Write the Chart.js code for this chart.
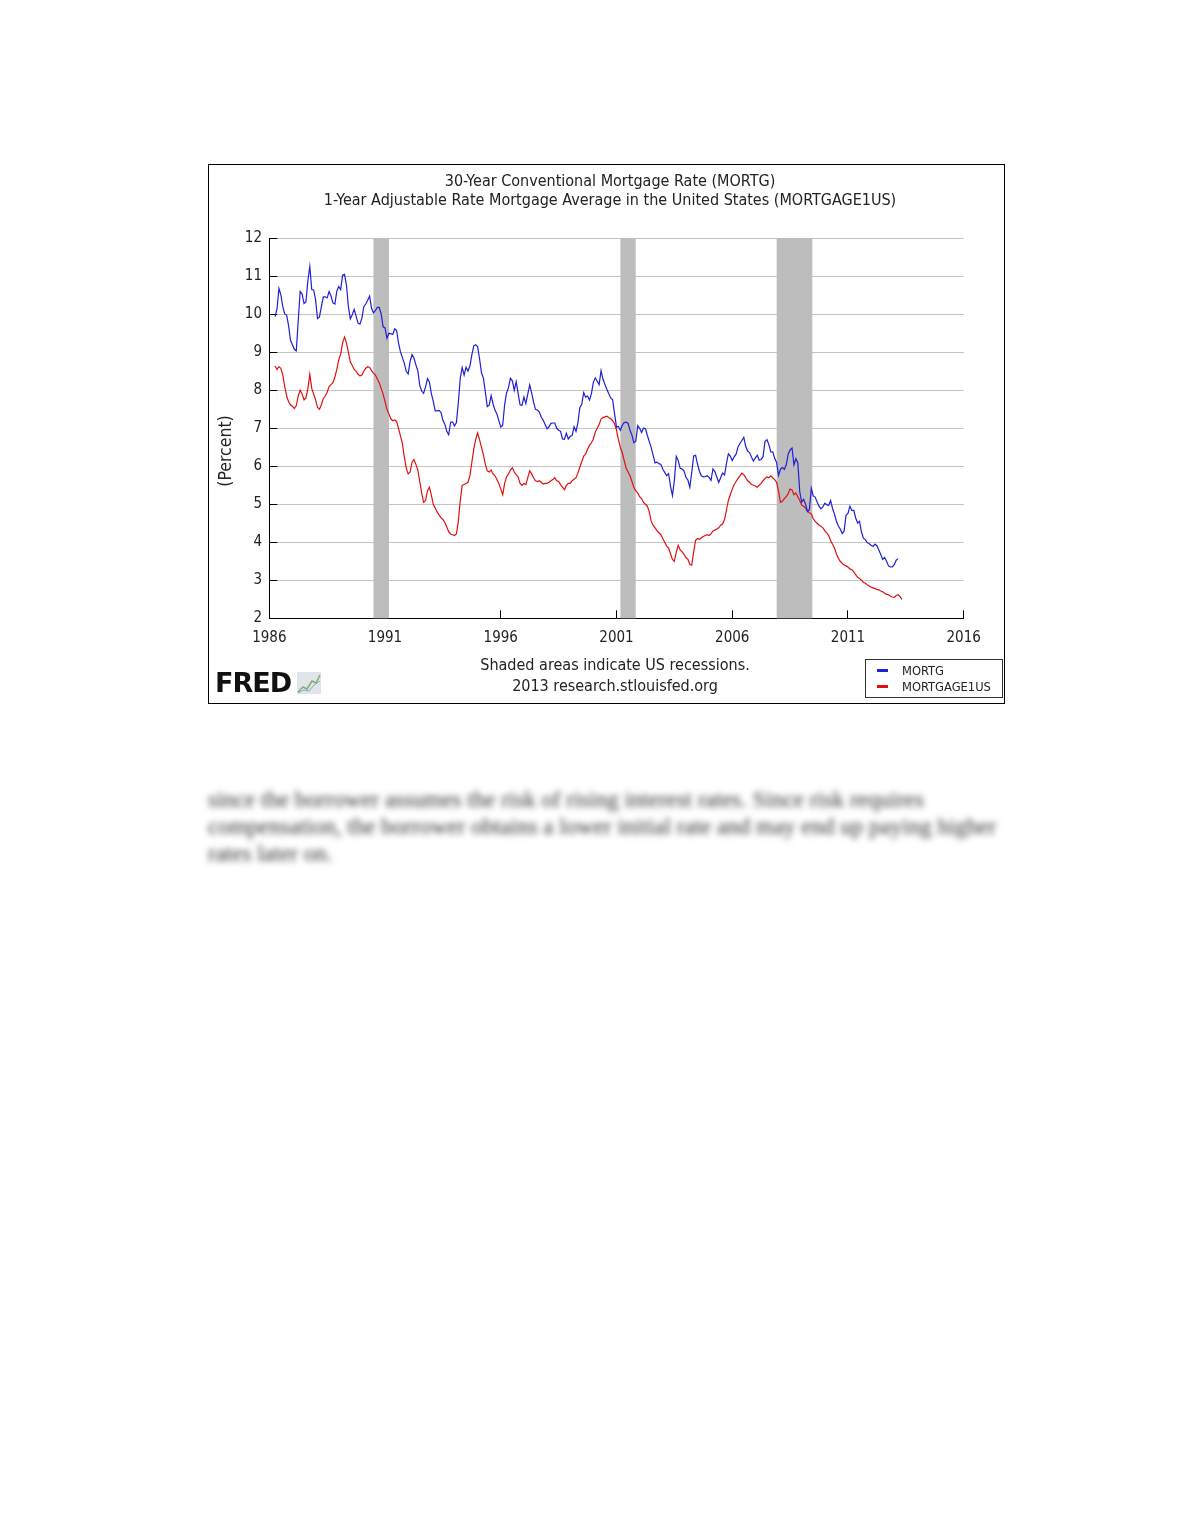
<!DOCTYPE html>
<html lang="en">
<head>
<meta charset="UTF-8">
<title>30-Year Conventional Mortgage Rate vs 1-Year ARM</title>
<style>
    html, body {
        margin: 0;
        padding: 0;
        background: #fff;
    }
    body {
        width: 1180px;
        height: 1527px;
        position: relative;
        font-family: "DejaVu Sans Condensed", "DejaVu Sans", sans-serif;
        color: #222;
    }
    #frame {
        position: absolute;
        left: 208px;
        top: 164px;
        width: 797px;
        height: 540px;
        border: 1px solid #000;
        box-sizing: border-box;
    }
    #chartBox {
        position: absolute;
        left: 0;
        top: 0;
        width: 797px;
        height: 540px;
    }
    .title {
        position: absolute;
        left: 310px;
        width: 600px;
        text-align: center;
        font-size: 16px;
        line-height: 19px;
        white-space: nowrap;
    }
    #yTitle {
        position: absolute;
        left: 175px;
        top: 440px;
        width: 100px;
        height: 22px;
        line-height: 22px;
        text-align: center;
        font-size: 17.5px;
        transform: rotate(-90deg);
        transform-origin: 50% 50%;
    }
    .note {
        position: absolute;
        left: 400px;
        width: 430px;
        text-align: center;
        font-size: 16px;
        line-height: 19px;
        color: #222;
    }
    #legendBox {
        position: absolute;
        left: 865px;
        top: 659px;
        width: 138px;
        height: 39px;
        border: 1px solid #333;
        box-sizing: border-box;
        background: #fff;
        font-size: 12.8px;
    }
    .item {
        position: absolute;
        left: 36px;
        line-height: 14px;
    }
    .swatch {
        position: absolute;
        left: -25px;
        top: 5px;
        width: 11px;
        height: 3px;
    }
    #fred {
        position: absolute;
        left: 215px;
        top: 667px;
        font-family: "DejaVu Sans", sans-serif;
        font-size: 27px;
        font-weight: bold;
        letter-spacing: -1px;
        color: #111;
    }
    #fredIcon {
        position: absolute;
        left: 297px;
        top: 672px;
    }
    #para {
        position: absolute;
        left: 208px;
        top: 786px;
        font-family: "Liberation Serif", serif;
        font-size: 23px;
        line-height: 27px;
        color: #333;
        filter: blur(3px);
        white-space: nowrap;
    }
</style>
</head>
<body>

<div id="frame">
    <div id="chartBox"><canvas id="rateChart"></canvas></div>
</div>

<div class="title" id="title1" style="top:171px"></div>
<div class="title" id="title2" style="top:190px"></div>
<div id="yTitle">(Percent)</div>

<div class="note" style="top:655px">Shaded areas indicate US recessions.</div>
<div class="note" style="top:676px">2013 research.stlouisfed.org</div>

<div id="fred">FRED</div>
<svg id="fredIcon" width="24" height="22" viewBox="0 0 24 22">
    <rect x="0" y="0" width="24" height="22" fill="#dfe5ea"/>
    <polyline points="1,20 6,15 10,17 15,9 19,11 23,3" fill="none" stroke="#7fae6a" stroke-width="1.5"/>
    <polyline points="1,21 7,18 12,19 17,13 23,9" fill="none" stroke="#8aa7c4" stroke-width="1"/>
</svg>

<div id="legendBox">
    <div class="item" style="top:4px"><span class="swatch" style="background:#1f1fd6"></span><span id="leg1"></span></div>
    <div class="item" style="top:20px"><span class="swatch" style="background:#e01010"></span><span id="leg2"></span></div>
</div>

<div id="para">since the borrower assumes the risk of rising interest rates. Since risk requires<br>compensation, the borrower obtains a lower initial rate and may end up paying higher<br>rates later on.</div>

<script src="https://cdn.jsdelivr.net/npm/chart.js"></script>
<script>
    // both series are monthly, first value = April 1986
    const startYear = 1986;
    const startMonth = 4;

    const titleLines = [
        '30-Year Conventional Mortgage Rate (MORTG)',
        '1-Year Adjustable Rate Mortgage Average in the United States (MORTGAGE1US)'
    ];
    const seriesNames = ['MORTG', 'MORTGAGE1US'];

    // 30-year conventional mortgage rate, percent
    const mortg = [
        9.94, 10.14, 10.68, 10.51, 10.20, 10.01, 9.98, 9.70, 9.31,
        9.20, 9.08, 9.04, 9.83, 10.60, 10.54, 10.28, 10.33, 10.89, 11.26, 10.65, 10.64,
        10.38, 9.89, 9.93, 10.20, 10.46, 10.46, 10.43, 10.60, 10.48, 10.30, 10.27, 10.61,
        10.73, 10.65, 11.03, 11.05, 10.77, 10.20, 9.88, 9.99, 10.13, 9.95, 9.77, 9.74,
        9.90, 10.20, 10.27, 10.37, 10.48, 10.16, 10.04, 10.10, 10.18, 10.18, 10.01, 9.67,
        9.64, 9.37, 9.50, 9.49, 9.47, 9.62, 9.58, 9.24, 9.01, 8.86, 8.71, 8.50,
        8.43, 8.76, 8.94, 8.85, 8.67, 8.51, 8.13, 7.98, 7.92, 8.09, 8.31, 8.22,
        7.92, 7.71, 7.46, 7.46, 7.47, 7.42, 7.21, 7.11, 6.92, 6.83, 7.16, 7.17,
        7.06, 7.15, 7.68, 8.32, 8.60, 8.40, 8.61, 8.51, 8.64, 8.93, 9.17, 9.20,
        9.15, 8.83, 8.46, 8.32, 7.96, 7.57, 7.61, 7.86, 7.64, 7.48, 7.38, 7.20,
        7.03, 7.08, 7.62, 7.93, 8.07, 8.32, 8.25, 8.00, 8.23, 7.92, 7.62, 7.60,
        7.82, 7.65, 7.90, 8.14, 7.94, 7.69, 7.50, 7.48, 7.43, 7.29, 7.21, 7.10,
        6.99, 7.04, 7.13, 7.14, 7.14, 7.00, 6.95, 6.92, 6.72, 6.71, 6.87, 6.72,
        6.79, 6.81, 7.04, 6.92, 7.15, 7.55, 7.63, 7.94, 7.82, 7.85, 7.74, 7.91,
        8.21, 8.33, 8.24, 8.15, 8.52, 8.29, 8.15, 8.03, 7.91, 7.80, 7.75, 7.38,
        7.03, 7.05, 6.95, 7.08, 7.15, 7.16, 7.13, 6.95, 6.82, 6.62, 6.66, 7.07,
        7.00, 6.89, 7.01, 6.99, 6.81, 6.65, 6.49, 6.29, 6.09, 6.11, 6.07, 6.05,
        5.92, 5.84, 5.75, 5.81, 5.48, 5.23, 5.63, 6.26, 6.15, 5.95, 5.93, 5.88,
        5.71, 5.64, 5.45, 5.83, 6.27, 6.29, 6.06, 5.87, 5.75, 5.72, 5.73, 5.75,
        5.71, 5.63, 5.93, 5.86, 5.72, 5.58, 5.70, 5.82, 5.77, 6.07, 6.33, 6.27,
        6.15, 6.25, 6.32, 6.51, 6.60, 6.68, 6.76, 6.52, 6.40, 6.36, 6.24, 6.14,
        6.22, 6.29, 6.16, 6.18, 6.26, 6.66, 6.70, 6.57, 6.38, 6.38, 6.21, 6.10,
        5.76, 5.92, 5.97, 5.92, 6.04, 6.32, 6.43, 6.48, 6.04, 6.20, 6.09, 5.33,
        5.06, 5.13, 5.00, 4.81, 4.86, 5.42, 5.22, 5.19, 5.06, 4.95, 4.88, 4.93,
        5.03, 4.99, 4.97, 5.10, 4.89, 4.74, 4.56, 4.43, 4.35, 4.23, 4.30, 4.71,
        4.76, 4.95, 4.84, 4.84, 4.64, 4.51, 4.55, 4.27, 4.11, 4.07, 3.99, 3.96,
        3.92, 3.89, 3.95, 3.91, 3.80, 3.68, 3.55, 3.60, 3.50, 3.38, 3.35, 3.35,
        3.41, 3.53, 3.57
    ];

    // 1-year ARM average, percent
    const mortgage1us = [
        8.64, 8.55, 8.62, 8.58, 8.40, 8.10, 7.85, 7.70, 7.62,
        7.58, 7.52, 7.60, 7.85, 8.00, 7.90, 7.75, 7.80, 8.05, 8.42, 8.05, 7.90,
        7.75, 7.55, 7.50, 7.62, 7.78, 7.85, 7.95, 8.10, 8.15, 8.20, 8.35, 8.55,
        8.80, 8.95, 9.25, 9.40, 9.25, 9.00, 8.75, 8.65, 8.55, 8.50, 8.42, 8.38,
        8.40, 8.50, 8.58, 8.62, 8.60, 8.52, 8.45, 8.40, 8.30, 8.20, 8.05, 7.90,
        7.70, 7.50, 7.38, 7.25, 7.20, 7.22, 7.18, 7.00, 6.80, 6.60, 6.25, 5.95,
        5.80, 5.85, 6.10, 6.18, 6.05, 5.90, 5.60, 5.30, 5.05, 5.10, 5.35, 5.45,
        5.25, 5.00, 4.90, 4.80, 4.72, 4.65, 4.60, 4.52, 4.40, 4.28, 4.22, 4.20,
        4.18, 4.22, 4.55, 5.10, 5.50, 5.52, 5.55, 5.58, 5.75, 6.10, 6.45, 6.70,
        6.88, 6.70, 6.50, 6.30, 6.05, 5.88, 5.85, 5.90, 5.80, 5.75, 5.65, 5.55,
        5.40, 5.25, 5.55, 5.72, 5.80, 5.90, 5.96, 5.85, 5.78, 5.72, 5.55, 5.50,
        5.55, 5.52, 5.70, 5.88, 5.80, 5.70, 5.62, 5.60, 5.62, 5.58, 5.53, 5.55,
        5.55, 5.58, 5.62, 5.65, 5.70, 5.62, 5.60, 5.52, 5.45, 5.38, 5.50, 5.55,
        5.55, 5.62, 5.66, 5.70, 5.82, 5.98, 6.12, 6.27, 6.32, 6.45, 6.55, 6.62,
        6.72, 6.90, 7.00, 7.10, 7.25, 7.28, 7.30, 7.32, 7.28, 7.25, 7.20, 7.12,
        6.95, 6.70, 6.50, 6.35, 6.15, 5.95, 5.85, 5.75, 5.60, 5.45, 5.35, 5.30,
        5.20, 5.15, 5.05, 5.00, 4.95, 4.80, 4.55, 4.45, 4.38, 4.30, 4.25, 4.20,
        4.10, 4.00, 3.90, 3.85, 3.70, 3.55, 3.50, 3.75, 3.92, 3.80, 3.75, 3.68,
        3.60, 3.55, 3.42, 3.40, 3.75, 4.05, 4.10, 4.08, 4.12, 4.15, 4.18, 4.20,
        4.18, 4.22, 4.30, 4.32, 4.35, 4.38, 4.45, 4.48, 4.60, 4.85, 5.10, 5.25,
        5.40, 5.52, 5.60, 5.68, 5.75, 5.82, 5.78, 5.70, 5.62, 5.58, 5.52, 5.50,
        5.48, 5.45, 5.50, 5.55, 5.62, 5.68, 5.72, 5.70, 5.75, 5.70, 5.65, 5.58,
        5.35, 5.05, 5.08, 5.15, 5.20, 5.28, 5.40, 5.38, 5.25, 5.30, 5.20, 5.10,
        4.98, 4.95, 4.90, 4.82, 4.78, 4.75, 4.62, 4.55, 4.50, 4.45, 4.42, 4.38,
        4.30, 4.25, 4.18, 4.05, 3.95, 3.85, 3.70, 3.58, 3.50, 3.45, 3.40, 3.38,
        3.35, 3.30, 3.28, 3.22, 3.15, 3.08, 3.05, 3.00, 2.95, 2.92, 2.88, 2.85,
        2.82, 2.80, 2.78, 2.76, 2.75, 2.72, 2.70, 2.66, 2.63, 2.62, 2.58, 2.56,
        2.55, 2.60, 2.62, 2.57, 2.50
    ];

    // US recessions (start, end) as decimal years
    const recessions = [
        [1990.50, 1991.17],
        [2001.17, 2001.83],
        [2007.92, 2009.46]
    ];

    const xTicks = [1986, 1991, 1996, 2001, 2006, 2011, 2016];
    const yTicks = [2, 3, 4, 5, 6, 7, 8, 9, 10, 11, 12];

    document.getElementById('title1').textContent = titleLines[0];
    document.getElementById('title2').textContent = titleLines[1];
    document.getElementById('leg1').textContent = seriesNames[0];
    document.getElementById('leg2').textContent = seriesNames[1];

    function toPoints(values) {
        return values.map((v, i) => ({ x: startYear + (startMonth - 1 + i) / 12, y: v }));
    }

    const shading = {
        id: 'recessionShading',
        beforeDatasetsDraw(chart) {
            const { ctx, chartArea, scales } = chart;
            ctx.save();
            ctx.fillStyle = '#bdbdbd';
            recessions.forEach(r => {
                const x1 = scales.x.getPixelForValue(r[0]);
                const x2 = scales.x.getPixelForValue(r[1]);
                ctx.fillRect(x1, chartArea.top, x2 - x1, chartArea.bottom - chartArea.top);
            });
            ctx.restore();
        }
    };

    const tickFont = { family: '"DejaVu Sans Condensed", "DejaVu Sans", sans-serif', size: 15 };

    new Chart(document.getElementById('rateChart'), {
        type: 'line',
        data: {
            datasets: [{
                label: seriesNames[0],
                data: toPoints(mortg),
                borderColor: '#1f1fd6',
                borderWidth: 1.2,
                pointRadius: 0
            }, {
                label: seriesNames[1],
                data: toPoints(mortgage1us),
                borderColor: '#e01010',
                borderWidth: 1.2,
                pointRadius: 0
            }]
        },
        options: {
            responsive: true,
            maintainAspectRatio: false,
            animation: false,
            layout: {
                padding: { left: 0, right: 42.3, top: 73.3, bottom: 56.7 }
            },
            plugins: {
                legend: { display: false },
                tooltip: { enabled: false }
            },
            scales: {
                x: {
                    type: 'linear',
                    min: 1986,
                    max: 2016,
                    afterBuildTicks: scale => {
                        scale.ticks = xTicks.map(v => ({ value: v }));
                    },
                    afterFit: scale => { scale.height = 30; },
                    ticks: {
                        autoSkip: false,
                        maxRotation: 0,
                        padding: 18.5,
                        color: '#222',
                        font: tickFont,
                        callback: v => String(v)
                    },
                    grid: {
                        drawOnChartArea: false,
                        tickLength: -8,
                        tickColor: '#000'
                    },
                    border: { display: true, color: '#000' }
                },
                y: {
                    min: 2,
                    max: 12,
                    afterBuildTicks: scale => {
                        scale.ticks = yTicks.map(v => ({ value: v }));
                    },
                    afterFit: scale => { scale.width = 60.3; },
                    ticks: {
                        padding: 15.3,
                        color: '#222',
                        font: tickFont
                    },
                    grid: {
                        color: '#c4c4c4',
                        tickColor: '#000',
                        tickLength: -8
                    },
                    border: { display: true, color: '#000' }
                }
            }
        },
        plugins: [shading]
    });
</script>

</body>
</html>
